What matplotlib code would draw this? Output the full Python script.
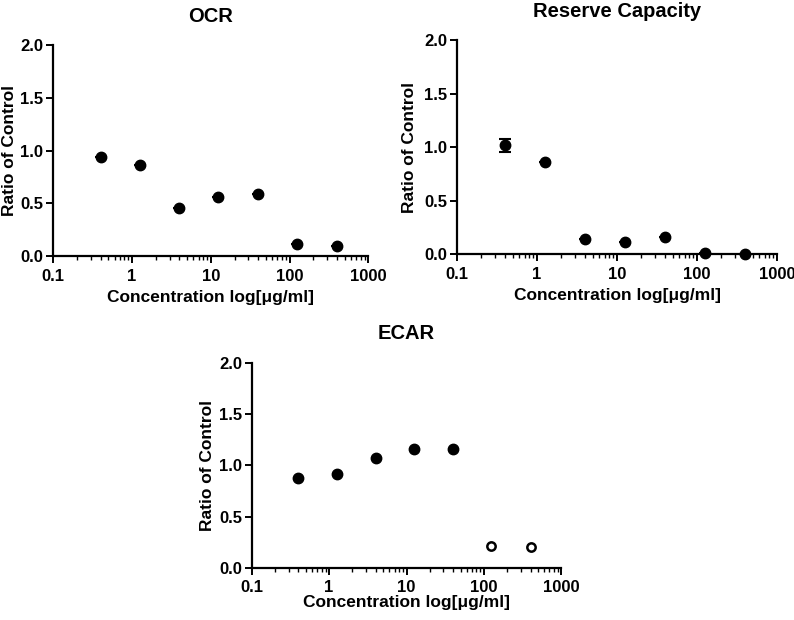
import matplotlib
matplotlib.use("Agg")
import matplotlib.pyplot as plt
from matplotlib.ticker import LogLocator, FixedLocator, FixedFormatter, NullFormatter

plt.rcParams['font.family'] = ['Liberation Sans', 'DejaVu Sans']
plt.rcParams['font.weight'] = 'bold'

conc = [0.4, 1.25, 4.0, 12.5, 40.0, 125.0, 400.0]
ocr = [0.94, 0.86, 0.46, 0.56, 0.59, 0.11, 0.10]
ocr_err = [0, 0, 0, 0, 0, 0, 0]
reserve = [1.02, 0.86, 0.14, 0.11, 0.16, 0.01, 0.005]
reserve_err = [0.06, 0, 0, 0, 0, 0, 0]
ecar = [0.88, 0.92, 1.07, 1.16, 1.16, 0.21, 0.20]
ecar_open = [False, False, False, False, False, True, True]

xticks = [0.1, 1, 10, 100, 1000]
xticklabels = ["0.1", "1", "10", "100", "1000"]
yticks = [0.0, 0.5, 1.0, 1.5, 2.0]
yticklabels = ["0.0", "0.5", "1.0", "1.5", "2.0"]

fig = plt.figure(figsize=(7.94, 6.2), dpi=100)

def style(ax, title, ylab_x, xlab_y):
    ax.set_xscale('log')
    ax.set_xlim(0.1, 1000)
    ax.set_ylim(0, 2.0)
    ax.spines['top'].set_visible(False)
    ax.spines['right'].set_visible(False)
    ax.spines['left'].set_linewidth(1.6)
    ax.spines['bottom'].set_linewidth(1.6)
    ax.xaxis.set_major_locator(FixedLocator(xticks))
    ax.xaxis.set_major_formatter(FixedFormatter(xticklabels))
    ax.xaxis.set_minor_locator(LogLocator(base=10, subs=range(2, 10)))
    ax.xaxis.set_minor_formatter(NullFormatter())
    ax.yaxis.set_major_locator(FixedLocator(yticks))
    ax.yaxis.set_major_formatter(FixedFormatter(yticklabels))
    ax.tick_params(axis='both', which='major', length=5, width=1.4, labelsize=12, direction='out', pad=2)
    ax.tick_params(axis='x', which='major', pad=4)
    ax.tick_params(axis='x', which='minor', length=3, width=1.0, direction='out')
    for lbl in ax.get_xticklabels() + ax.get_yticklabels():
        lbl.set_fontweight('bold')
    ax.set_xlabel("Concentration log[\u03bcg/ml]", fontsize=12.5, fontweight='bold')
    ax.xaxis.set_label_coords(0.5, xlab_y)
    ax.set_ylabel("Ratio of Control", fontsize=12.5, fontweight='bold')
    ax.yaxis.set_label_coords(ylab_x, 0.5)
    ax.set_title(title, fontsize=14.5, fontweight='bold', pad=17)
    ax.patch.set_visible(False)

ax1 = fig.add_axes([0.067, 0.587, 0.397, 0.340])
ax1.errorbar(conc, ocr, yerr=ocr_err, fmt='o', color='black', ms=7.5, capsize=4, elinewidth=1.5, capthick=1.5, clip_on=False)
style(ax1, "OCR", -0.115, -0.163)

ax2 = fig.add_axes([0.5756, 0.590, 0.403, 0.345])
ax2.errorbar(conc, reserve, yerr=reserve_err, fmt='o', color='black', ms=7.5, capsize=4, elinewidth=1.5, capthick=1.5, clip_on=False)
style(ax2, "Reserve Capacity", -0.125, -0.158)

ax3 = fig.add_axes([0.317, 0.084, 0.390, 0.331])
xf = [c for c, o in zip(conc, ecar_open) if not o]
yf = [v for v, o in zip(ecar, ecar_open) if not o]
xo = [c for c, o in zip(conc, ecar_open) if o]
yo = [v for v, o in zip(ecar, ecar_open) if o]
ax3.plot(xf, yf, 'o', color='black', ms=7.5, clip_on=False)
ax3.plot(xo, yo, 'o', mfc='white', mec='black', mew=1.8, ms=6, clip_on=False)
style(ax3, "ECAR", -0.12, -0.13)

fig.savefig("out.png", dpi=100)
